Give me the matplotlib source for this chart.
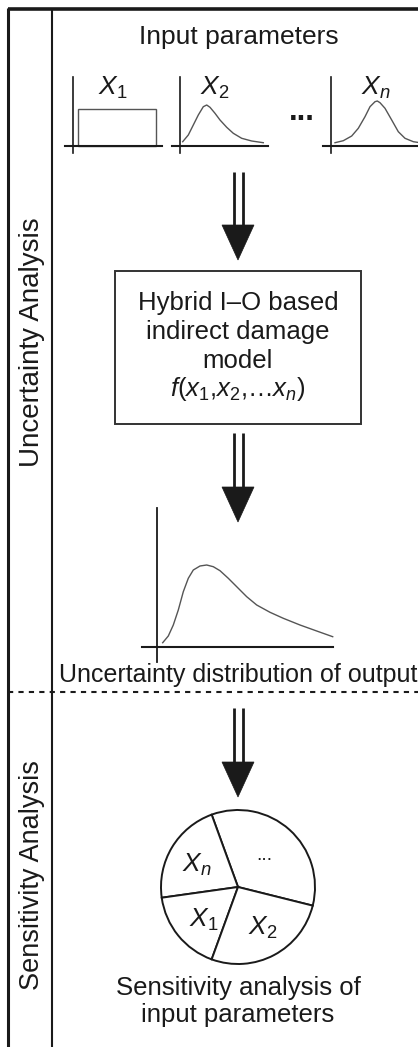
import matplotlib
matplotlib.use("Agg")
import matplotlib.pyplot as plt
from matplotlib.patches import Rectangle, Polygon, Wedge

plt.rcParams['font.family'] = ['Liberation Sans', 'DejaVu Sans']
plt.rcParams['mathtext.fontset'] = 'custom'
plt.rcParams['mathtext.rm'] = 'Liberation Sans'
plt.rcParams['mathtext.it'] = 'Liberation Sans:italic'
plt.rcParams['mathtext.bf'] = 'Liberation Sans:bold'

# ---- data (pixel space) ----
x1_rect_x = [78.3, 156.0]
x1_rect_top = 109.3

x2_curve_x = [182.7, 188.3, 193.3, 198.3, 203.3, 206.7, 210.0, 215.0, 220.0, 226.7, 233.3, 241.7, 251.7, 263.3]
x2_curve_y = [141.7, 135.0, 125.0, 115.0, 106.7, 105.0, 107.3, 113.3, 120.0, 127.3, 133.3, 138.3, 141.0, 142.7]

xn_curve_x = [335.0, 343.3, 351.7, 358.3, 365.0, 370.0, 375.0, 377.3, 380.0, 385.0, 391.7, 398.3, 405.0, 413.3, 420.0]
xn_curve_y = [142.7, 140.7, 136.0, 128.3, 116.7, 106.7, 101.7, 101.0, 102.7, 108.3, 120.0, 131.7, 138.3, 141.7, 142.7]

out_curve_x = [162.7, 168.3, 173.3, 178.3, 183.3, 188.3, 193.3, 200.0, 206.7, 213.3, 220.0, 228.3, 236.7,
               246.7, 256.7, 270.0, 283.3, 300.0, 316.7, 332.7]
out_curve_y = [642.7, 636.0, 625.0, 610.0, 591.7, 578.3, 570.0, 566.0, 565.0, 566.7, 570.7, 578.3, 586.7,
               596.7, 605.0, 612.3, 618.3, 625.0, 631.0, 636.7]

pie_labels = ['...', 'Xn', 'X1', 'X2']
pie_sizes = [124, 78, 62, 96]   # degrees
pie_start = -14

W, H = 418, 1047
fig = plt.figure(figsize=(W / 100, H / 100), dpi=100)
ax = fig.add_axes([0, 0, 1, 1])
ax.set_xlim(0, W)
ax.set_ylim(H, 0)
ax.axis('off')

dark = '#1a1a1a'
gray = '#555555'

# frame
ax.plot([8, 8], [8, H], color=dark, lw=2.2, solid_capstyle='butt')
ax.plot([8, W], [8.5, 8.5], color=dark, lw=2.6, solid_capstyle='butt')
ax.plot([52, 52], [8, H], color=dark, lw=1.5, solid_capstyle='butt')
ax.plot([8, W], [692, 692], color=dark, lw=1.5, ls=(0, (2.5, 2.5)))

ax.text(32, 342, 'Uncertainty Analysis', rotation=90, ha='center', va='center', fontsize=20, color=dark)
ax.text(32, 875, 'Sensitivity Analysis', rotation=90, ha='center', va='center', fontsize=19.5, color=dark)

ax.text(238.5, 37, 'Input parameters', ha='center', va='center', fontsize=19, color=dark)

# small distribution plots
def mini_axes(x0, xa, xb):
    ax.plot([x0, x0], [77, 153], color=dark, lw=1.2)
    ax.plot([xa, xb], [146, 146], color=dark, lw=1.5)

mini_axes(73.3, 65, 162)
mini_axes(180, 172, 268)
mini_axes(331, 323, 420)
ax.add_patch(Rectangle((x1_rect_x[0], x1_rect_top), x1_rect_x[1] - x1_rect_x[0], 146 - x1_rect_top,
                       fill=False, ec=gray, lw=1.0))
ax.plot(x2_curve_x, x2_curve_y, color=gray, lw=1.0)
ax.plot(xn_curve_x, xn_curve_y, color=gray, lw=1.0)

def xlabel(x, y, sub, size=19):
    s = r'$\mathit{X}_{\mathit{n}}$' if sub == 'n' else r'$\mathit{X}_{\mathrm{%s}}$' % sub
    ax.text(x, y, s, ha='center', va='center', fontsize=size, color=dark)

xlabel(113, 88, '1')
xlabel(215, 88, '2')
xlabel(376, 88, 'n')
ax.text(302, 112, '...', ha='center', va='center', fontsize=22, fontweight='bold', color=dark)

# arrows
def arrow(y0, yhead, ytip):
    for xx in (233.5, 243):
        ax.plot([xx, xx], [y0, yhead + 2], color=dark, lw=2.0, solid_capstyle='butt')
    ax.add_patch(Polygon([[222, yhead], [254, yhead], [238, ytip]], closed=True, fc=dark, ec=dark, lw=0.5))

arrow(172, 225, 260)
arrow(433, 487, 522)
arrow(708, 762, 797)

# model box
ax.add_patch(Rectangle((114.5, 270.5), 246, 153.5, fill=False, ec='#333333', lw=1.4))
ax.text(238, 303, 'Hybrid I\u2013O based', ha='center', va='center', fontsize=18.5, color=dark)
ax.text(238, 332, 'indirect damage', ha='center', va='center', fontsize=18.5, color=dark)
ax.text(238, 361, 'model', ha='center', va='center', fontsize=18.5, color=dark)
ax.text(238, 389, '$\\mathit{f(x_1{,}x_2{,}\u2026x_n)}$', ha='center', va='center',
        fontsize=18.5, color=dark)

# output distribution
ax.plot([156.7, 156.7], [508, 662], color=dark, lw=1.3)
ax.plot([142, 333], [646.5, 646.5], color=dark, lw=1.5)
ax.plot(out_curve_x, out_curve_y, color=gray, lw=1.0)
ax.text(238, 675, 'Uncertainty distribution of output', ha='center', va='center', fontsize=18, color=dark)

# pie
cx, cy, r = 238, 887, 77
ang = pie_start
for lab, s in zip(pie_labels, pie_sizes):
    ax.add_patch(Wedge((cx, cy), r, -(ang + s), -ang, fc='white', ec=dark, lw=1.4))
    ang += s
ax.text(264, 855, '...', ha='center', va='center', fontsize=14, color=dark)
xlabel(197, 865, 'n')
xlabel(204, 920, '1')
xlabel(263, 928, '2')

ax.text(238, 988, 'Sensitivity analysis of', ha='center', va='center', fontsize=18.5, color=dark)
ax.text(238, 1015, 'input parameters', ha='center', va='center', fontsize=18.5, color=dark)

fig.savefig('out.png', dpi=100)
